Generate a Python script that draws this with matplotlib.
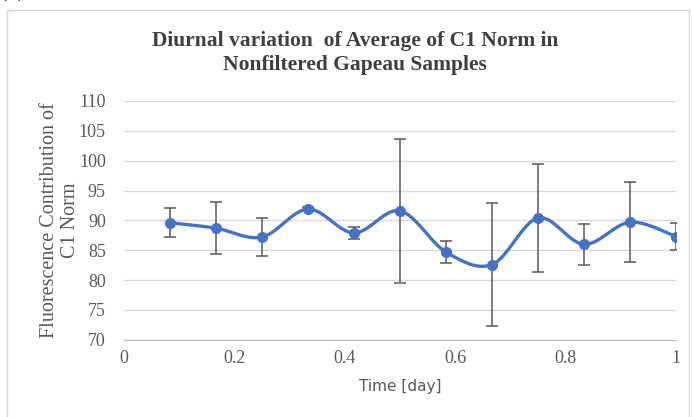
import numpy as np
import matplotlib.pyplot as plt
from matplotlib.patches import Rectangle

time_day = [1/12, 2/12, 3/12, 4/12, 5/12, 6/12, 7/12, 8/12, 9/12, 10/12, 11/12, 1.0]
c1_norm = [89.6, 88.7, 87.2, 91.9, 87.9, 91.6, 84.7, 82.6, 90.4, 86.0, 89.7, 87.3]
c1_err = [2.4, 4.3, 3.2, 0.3, 1.0, 12.0, 1.8, 10.3, 9.1, 3.4, 6.7, 2.2]

y_ticks = list(range(70, 111, 5))
x_ticks = [0, 0.2, 0.4, 0.6, 0.8, 1]
x_ticklabels = ["0", "0.2", "0.4", "0.6", "0.8", "1"]


def smooth_curve(x, y, n=30):
    # Catmull-Rom style smoothing, like Excel's "smoothed line"
    x = np.asarray(x, float)
    y = np.asarray(y, float)
    px = np.concatenate([[x[0]], x, [x[-1]]])
    py = np.concatenate([[y[0]], y, [y[-1]]])
    xs, ys = [], []
    t = np.linspace(0, 1, n)
    for i in range(1, len(px) - 2):
        p0, p1, p2, p3 = (np.array([px[j], py[j]]) for j in (i - 1, i, i + 1, i + 2))
        c1 = p1 + (p2 - p0) / 6
        c2 = p2 - (p3 - p1) / 6
        pts = ((1 - t) ** 3)[:, None] * p1 + (3 * (1 - t) ** 2 * t)[:, None] * c1 \
            + (3 * (1 - t) * t ** 2)[:, None] * c2 + (t ** 3)[:, None] * p2
        xs.extend(pts[:, 0])
        ys.extend(pts[:, 1])
    return xs, ys


fig = plt.figure(figsize=(6.92, 4.17), dpi=100)
ax = fig.add_axes([0.179, 0.185, 0.798, 0.573])

blue = "#4472C4"
ax.errorbar(time_day, c1_norm, yerr=c1_err, fmt="none", ecolor="#595959",
            elinewidth=1.1, capsize=4, capthick=1.1, zorder=2)
sx, sy = smooth_curve(time_day, c1_norm)
ax.plot(sx, sy, color=blue, lw=2.4, zorder=3, solid_capstyle="round")
ax.plot(time_day, c1_norm, "o", color=blue, ms=7, zorder=4)

ax.set_xlim(0, 1)
ax.set_ylim(70, 110)
ax.set_yticks(y_ticks)
ax.set_xticks(x_ticks)
ax.set_xticklabels(x_ticklabels)
ax.grid(axis="y", color="#d9d9d9", lw=1)
ax.set_axisbelow(True)
for s in ("left", "right", "top"):
    ax.spines[s].set_visible(False)
ax.spines["bottom"].set_color("#bfbfbf")
ax.tick_params(length=0, labelsize=13, colors="#595959")
ax.tick_params(axis="y", pad=13)
ax.tick_params(axis="x", pad=7)
for lab in ax.get_xticklabels() + ax.get_yticklabels():
    lab.set_family("Liberation Serif")

ax.set_xlabel("Time [day]", fontsize=11, color="#595959", family="DejaVu Sans", labelpad=9)
ax.set_ylabel("Fluorescence Contribution of\nC1 Norm", fontsize=14.5, color="#595959",
              family="Liberation Serif", linespacing=1.1)
ax.yaxis.set_label_coords(-0.08, 0.5)

fig.text(0.513, 0.873, "Diurnal variation  of Average of C1 Norm in\nNonfiltered Gapeau Samples",
         ha="center", va="center", fontsize=15.5, fontweight="bold", color="#404040",
         family="Liberation Serif", linespacing=1.25)

fig.patches.append(Rectangle((7 / 692, -0.05), 682 / 692, 1 - 10 / 417 + 0.05,
                             transform=fig.transFigure, fill=False,
                             edgecolor="#d9d9d9", lw=1))
fig.text(0.0, 0.992, "(c)", fontsize=13, va="bottom", ha="left", color="#404040")

fig.savefig("out.png", dpi=100)
